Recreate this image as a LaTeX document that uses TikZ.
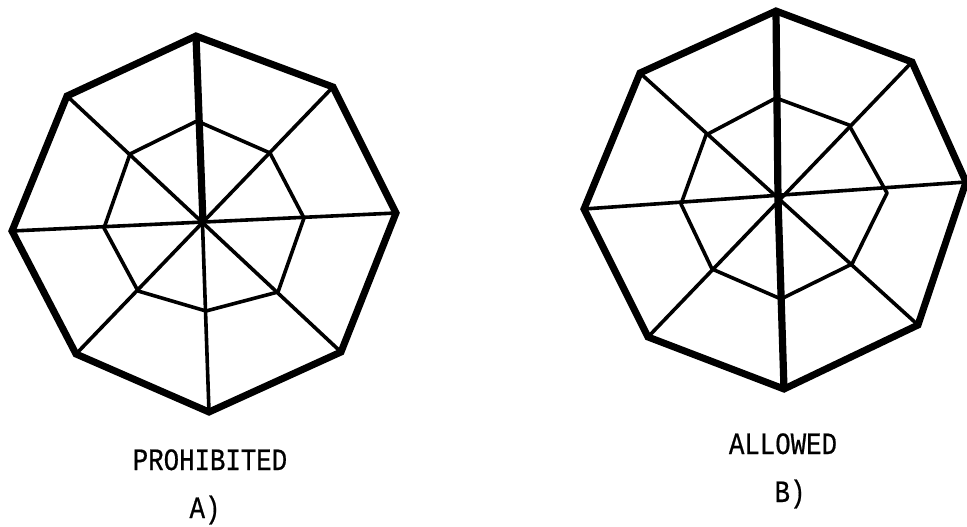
\documentclass[tikz,border=0pt]{standalone}
\usepackage{fontspec}
\setmainfont[FakeStretch=0.83,FakeBold=0.6]{Liberation Mono}
\tikzset{
  outerline/.style={line width=7pt,line join=miter},
  innerline/.style={line width=3.6pt,line cap=round,line join=round},
  heavyspoke/.style={line width=7.2pt},
  lbl/.style={inner sep=0pt,anchor=base,font=\fontsize{31}{31}\selectfont,text=black}
}
\begin{document}
\begin{tikzpicture}[x=1pt,y=-1pt]
\useasboundingbox (0,0) rectangle (967,527);
% A
\coordinate (ac) at (203,223);
\coordinate (a1) at (196,36);\coordinate (a2) at (333,87);\coordinate (a3) at (396,213);\coordinate (a4) at (341,352);
\coordinate (a5) at (209,412);\coordinate (a6) at (76,354);\coordinate (a7) at (12,231);\coordinate (a8) at (67,96);
\coordinate (ai1) at (197,121);\coordinate (ai2) at (270,153);\coordinate (ai3) at (304,218);\coordinate (ai4) at (278,292);
\coordinate (ai5) at (206,311);\coordinate (ai6) at (138,291);\coordinate (ai7) at (104,228);\coordinate (ai8) at (130,154);
\foreach \i/\p in {1/5,2/6,3/7,4/8}{\draw[innerline] (a\i) -- (a\p);}
\draw[innerline] (ai1)--(ai2)--(ai3)--(ai4)--(ai5)--(ai6)--(ai7)--(ai8)--cycle;
\draw[heavyspoke] (a1) -- (ac);
\draw[outerline] (a1)--(a2)--(a3)--(a4)--(a5)--(a6)--(a7)--(a8)--cycle;
% B
\coordinate (bc) at (778,199);
\coordinate (b1) at (776,11);\coordinate (b2) at (912,62);\coordinate (b3) at (966,182);\coordinate (b4) at (918,325);
\coordinate (b5) at (784,389);\coordinate (b6) at (648,337);\coordinate (b7) at (584,209);\coordinate (b8) at (640,73);
\coordinate (bi1) at (776,98);\coordinate (bi2) at (849,125);\coordinate (bi3) at (887,193);\coordinate (bi4) at (852,264);
\coordinate (bi5) at (781,299);\coordinate (bi6) at (712,269);\coordinate (bi7) at (681,204);\coordinate (bi8) at (706,135);
\foreach \i/\p in {2/6,3/7,4/8}{\draw[innerline] (b\i) -- (b\p);}
\draw[innerline] (bi1)--(bi2)--(bi3)--(bi4)--(bi5)--(bi6)--(bi7)--(bi8)--cycle;
\draw[heavyspoke] (b1) -- (bc) -- (b5);
\draw[outerline] (b1)--(b2)--(b3)--(b4)--(b5)--(b6)--(b7)--(b8)--cycle;
% labels
\node[lbl] (t1) at (210,470) {PROHIBITED};
\node[lbl] (t2) at (205,518) {A)};
\node[lbl] (t3) at (783,454) {ALLOWED};
\node[lbl] (t4) at (790,502) {B)};
\end{tikzpicture}
\end{document}
